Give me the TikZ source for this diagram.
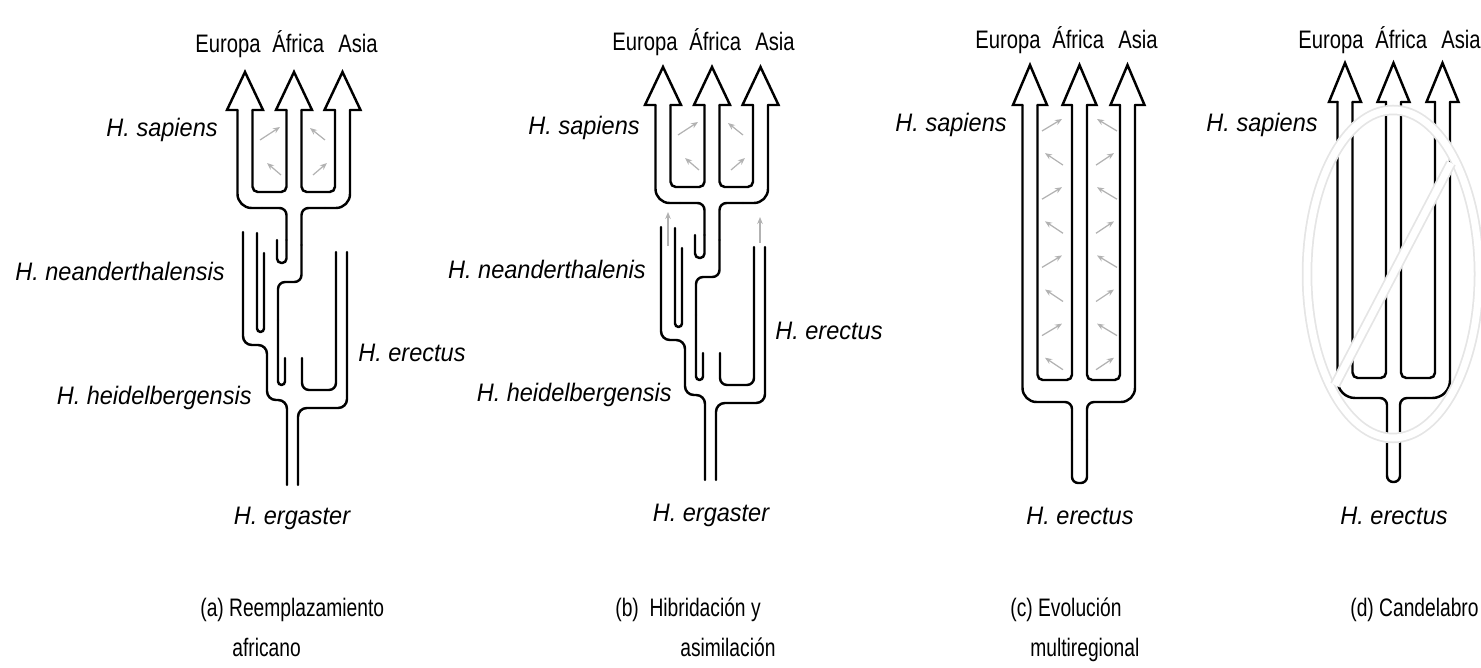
\documentclass[tikz,border=0pt]{standalone}
\usepackage{fontspec}
\setmainfont{Liberation Sans}
\newfontfamily\regionfont{Liberation Sans}[FakeStretch=0.8]
\newfontfamily\speciesfont{Liberation Sans}[FakeStretch=0.93]
\newfontfamily\captionfont{Liberation Sans}[FakeStretch=0.76]
\usetikzlibrary{arrows.meta}

% open arrow head: centre x, base y, tip y, half width
\newcommand{\openhead}[4]{\draw[headline] (#1-7.5,#2) -- (#1-#4,#2) -- (#1,#3) -- (#1+#4,#2) -- (#1+7.5,#2);}

% branching tree used in (a) and (b), pixel units
\newcommand{\forktree}{%
% sapiens trident
\openhead{245}{110}{72}{18}
\openhead{294}{110}{72}{18}
\openhead{342.5}{110}{72}{18}
\draw[wall, rounded corners=8pt] (237.5,110) -- (237.5,208) -- (262,208);
\draw[wall, rounded corners=4pt] (262,208) -- (286.5,208) -- (286.5,240);
\draw[wall, rounded corners=2.5pt] (286.5,240) -- (286.5,263) -- (277,263) -- (277,240);
\draw[wall, rounded corners=3pt] (252.5,110) -- (252.5,192) -- (286.5,192) -- (286.5,110);
\draw[wall, rounded corners=3pt] (301.5,110) -- (301.5,192) -- (335,192) -- (335,110);
\draw[wall, rounded corners=8pt] (350,110) -- (350,208) -- (325,208);
\draw[wall, rounded corners=4pt] (325,208) -- (301.5,208) -- (301.5,245);
\draw[wall, rounded corners=4pt] (301.5,245) -- (301.5,282) -- (278,282) -- (278,320);
\draw[wall, rounded corners=2pt] (278,320) -- (278,385) -- (285,385) -- (285,358);
% neanderthal and heidelbergensis
\draw[wall, rounded corners=5pt] (243,232) -- (243,345) -- (267,345) -- (267,400) -- (287,400) -- (287,485);
\draw[wall, rounded corners=2pt] (257,233) -- (257,332) -- (264,332) -- (264,253);
% erectus
\draw[wall, rounded corners=4pt] (302,358) -- (302,390) -- (336,390) -- (336,252);
\draw[wall, rounded corners=5pt] (298,485) -- (298,408) -- (347,408) -- (347,252);
% gene flow between regions
\draw[flow] (260,140) -- (280,127);
\draw[flow] (281,175) -- (267,163);
\draw[flow] (325,140) -- (310,128);
\draw[flow] (313,175) -- (327,163);
}

\begin{document}
\begin{tikzpicture}[x=0.02cm, y=-0.02cm,
  wall/.style={line width=1.4pt, line cap=round, line join=round},
  headline/.style={line width=1.4pt, line cap=round, line join=miter},
  flow/.style={gray!60, line width=0.7pt, -{Stealth[length=4pt,width=3.2pt]}},
  ring/.style={gray!20, line width=1pt, double=white, double distance=1.4mm},
  region/.style={font={\regionfont\fontsize{14.4}{16}\selectfont}, inner sep=0pt},
  species/.style={font={\speciesfont\itshape\fontsize{14.4}{16}\selectfont}, inner sep=0pt},
  capt/.style={font={\captionfont\fontsize{14.4}{16}\selectfont}, inner sep=0pt}]
\useasboundingbox (0,0) rectangle (1481,668);

% (a) African replacement
\begin{scope}
\forktree
\end{scope}
\node[region, anchor=base west] (a-europa) at (195,53) {Europa};
\node[region, anchor=base west] (a-africa) at (272,53) {África};
\node[region, anchor=base west] (a-asia) at (338,53) {Asia};
\node[species, anchor=base east] (a-sapiens) at (218,137) {H. sapiens};
\node[species, anchor=base east] (a-neander) at (225,281) {H. neanderthalensis};
\node[species, anchor=base east] (a-heidel) at (252,405) {H. heidelbergensis};
\node[species, anchor=base west] (a-erectus) at (358,362) {H. erectus};
\node[species, anchor=base] (a-ergaster) at (292,525) {H. ergaster};
\node[capt, anchor=base west] (a-cap1) at (200,617) {(a) Reemplazamiento};
\node[capt, anchor=base west] (a-cap2) at (232,656) {africano};

% (b) Hybridisation and assimilation
\begin{scope}[shift={(418,-5)}]
\forktree
\draw[flow] (250,251) -- (250,217);
\draw[flow] (342,248) -- (342,222);
\end{scope}
\node[region, anchor=base west] (b-europa) at (612,51) {Europa};
\node[region, anchor=base west] (b-africa) at (689,51) {África};
\node[region, anchor=base west] (b-asia) at (755,51) {Asia};
\node[species, anchor=base east] (b-sapiens) at (640,135) {H. sapiens};
\node[species, anchor=base east] (b-neander) at (646,279) {H. neanderthalenis};
\node[species, anchor=base east] (b-heidel) at (672,402) {H. heidelbergensis};
\node[species, anchor=base west] (b-erectus) at (775,340) {H. erectus};
\node[species, anchor=base] (b-ergaster) at (711,522) {H. ergaster};
\node[capt, anchor=base west] (b-cap1) at (615,617) {(b)~ Hibridación y};
\node[capt, anchor=base west] (b-cap2) at (680,656) {asimilación};

% (c) Multiregional evolution
\openhead{1030}{105}{65}{17}
\openhead{1079.5}{105}{65}{17}
\openhead{1127.5}{105}{65}{17}
\draw[wall, rounded corners=3pt] (1037.5,105) -- (1037.5,380) -- (1072,380) -- (1072,105);
\draw[wall, rounded corners=3pt] (1087,105) -- (1087,380) -- (1120,380) -- (1120,105);
\draw[wall, rounded corners=8pt] (1022.5,105) -- (1022.5,402) -- (1048,402);
\draw[wall, rounded corners=4pt] (1048,402) -- (1072,402) -- (1072,440);
\draw[wall, rounded corners=8pt] (1135,105) -- (1135,402) -- (1110,402);
\draw[wall, rounded corners=4pt] (1110,402) -- (1087,402) -- (1087,440);
\draw[wall, rounded corners=3.5pt] (1072,440) -- (1072,483) -- (1087,483) -- (1087,440);
\foreach \i in {0,2,4,6} {
  \draw[flow] (1042,125+34.1*\i+6) -- (1062,125+34.1*\i-6);
  \draw[flow] (1117,125+34.1*\i+6) -- (1097,125+34.1*\i-6);
}
\foreach \i in {1,3,5,7} {
  \draw[flow] (1063,125+34.1*\i+6) -- (1045,125+34.1*\i-6);
  \draw[flow] (1096,125+34.1*\i+6) -- (1114,125+34.1*\i-6);
}
\node[region, anchor=base west] (c-europa) at (975,49) {Europa};
\node[region, anchor=base west] (c-africa) at (1052,49) {África};
\node[region, anchor=base west] (c-asia) at (1118,49) {Asia};
\node[species, anchor=base east] (c-sapiens) at (1007,132) {H. sapiens};
\node[species, anchor=base] (c-erectus) at (1080,525) {H. erectus};
\node[capt, anchor=base west] (c-cap1) at (1010,617) {(c) Evolución};
\node[capt, anchor=base west] (c-cap2) at (1030,656) {multiregional};

% (d) Candelabra
\openhead{1345}{102}{63}{16}
\openhead{1393.5}{102}{63}{16}
\openhead{1442.5}{102}{63}{16}
\draw[wall, rounded corners=3pt] (1352.5,102) -- (1352.5,378) -- (1386,378) -- (1386,102);
\draw[wall, rounded corners=3pt] (1401,102) -- (1401,378) -- (1435,378) -- (1435,102);
\draw[wall, rounded corners=10pt] (1337.5,102) -- (1337.5,398) -- (1362,398);
\draw[wall, rounded corners=4pt] (1362,398) -- (1387,398) -- (1387,440);
\draw[wall, rounded corners=10pt] (1450,102) -- (1450,398) -- (1425,398);
\draw[wall, rounded corners=4pt] (1425,398) -- (1400,398) -- (1400,440);
\draw[wall, rounded corners=3.5pt] (1387,440) -- (1387,482) -- (1400,482) -- (1400,440);
% rejected: ring and slash
\draw[ring] (1393,274) ellipse [x radius=86, y radius=164];
\draw[ring] (1451,163) -- (1335,385);
\node[region, anchor=base west] (d-europa) at (1298,49) {Europa};
\node[region, anchor=base west] (d-africa) at (1375,49) {África};
\node[region, anchor=base west] (d-asia) at (1441,49) {Asia};
\node[species, anchor=base east] (d-sapiens) at (1318,132) {H. sapiens};
\node[species, anchor=base] (d-erectus) at (1394,525) {H. erectus};
\node[capt, anchor=base west] (d-cap1) at (1350,617) {(d) Candelabro};
\end{tikzpicture}
\end{document}
